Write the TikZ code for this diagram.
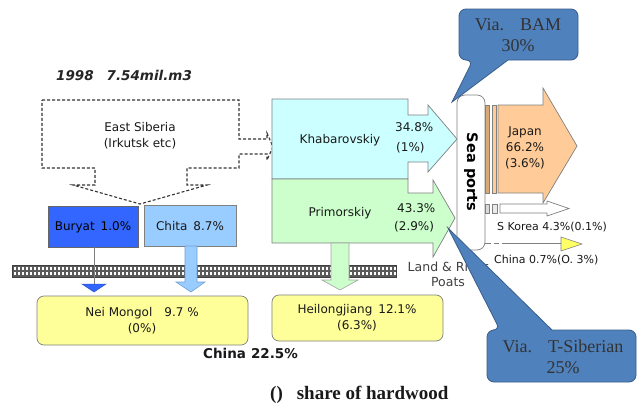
\documentclass[tikz,border=0pt]{standalone}
\usepackage{fontspec}
\setmainfont{DejaVu Sans}
\newfontfamily\serifface{Liberation Serif}
\definecolor{khab}{HTML}{CCFFFF}
\definecolor{prim}{HTML}{CCFFCC}
\definecolor{japan}{HTML}{FFCC99}
\definecolor{japandark}{HTML}{D9A877}
\definecolor{buryat}{HTML}{3366FF}
\definecolor{chita}{HTML}{99CCFF}
\definecolor{chitaline}{HTML}{6FA0D8}
\definecolor{yell}{HTML}{FFFF99}
\definecolor{yelltri}{HTML}{FFFF66}
\definecolor{callfill}{HTML}{4F81BD}
\definecolor{callline}{HTML}{385D8A}
\definecolor{edge}{HTML}{808080}
\definecolor{railgray}{HTML}{5A5A5A}
\tikzset{
  shapebox/.style={draw=edge, line width=0.7pt},
  dashline/.style={draw=black!80, line width=1.1pt, dash pattern=on 3pt off 2pt},
  lbl/.style={inner sep=0pt, align=center, text=black!90, font=\fontsize{12}{16}\selectfont},
  smalllbl/.style={inner sep=0pt, align=center, text=black!90, font=\fontsize{11}{13}\selectfont},
  calloutshape/.style={fill=callfill, draw=callline, line width=0.8pt},
  callouttext/.style={inner sep=0pt, align=center, text=black!80, font=\serifface\fontsize{18}{21}\selectfont},
}
\begin{document}
\begin{tikzpicture}[x=1pt,y=-1pt]
\useasboundingbox (0,0) rectangle (637,407);
\fill[white] (0,0) rectangle (637,407);

% title
\node[inner sep=0pt, text=black!85, font=\fontsize{13.5}{16}\selectfont\bfseries\itshape] (title) at (124,75) {1998\hspace{13pt}7.54mil.m3};

% East Siberia dashed outline
\draw[dashline] (42,100) -- (239,100) -- (239,139) -- (267,139) -- (267,133) -- (273,147) -- (267,160) -- (267,154) -- (239,154) -- (239,168) -- (187,168) -- (187,185) -- (207,185) -- (140,204) -- (73,185) -- (95,185) -- (95,168) -- (42,168) -- cycle;
\node[lbl] (eastsib) at (140,136) {East Siberia\\(Irkutsk etc)};

% Khabarovskiy
\filldraw[shapebox, fill=khab] (272,99) -- (408,99) -- (408,115) -- (428,115) -- (428,105) -- (457,139) -- (428,172) -- (428,162) -- (408,162) -- (408,179) -- (272,179) -- cycle;
\node[lbl] (khabtxt) at (340,140) {Khabarovskiy};
\node[lbl, anchor=west] (khabpct) at (395,127) {34.8\%};
\node[lbl, anchor=west] (khabhw) at (396,148) {(1\%)};

% Primorskiy
\filldraw[shapebox, fill=prim] (272,179) -- (408,179) -- (408,193) -- (433,193) -- (433,180) -- (455,218) -- (433,257) -- (433,243) -- (272,243) -- cycle;
\node[lbl] (primtxt) at (340,213) {Primorskiy};
\node[lbl, anchor=west] (primpct) at (397,208) {43.3\%};
\node[lbl, anchor=west] (primhw) at (394,227) {(2.9\%)};

% Buryat and Chita
\filldraw[shapebox, draw=black!60, fill=buryat] (48,206) rectangle (138,247);
\node[lbl, text=black] (buryat) at (93,227) {Buryat\hspace{6pt}1.0\%};
\filldraw[shapebox, fill=chita] (144,205) rectangle (236,246);
\node[lbl] (chita) at (190,226) {Chita\hspace{6pt}8.7\%};

% rail track
\fill[railgray] (12,265) rectangle (396,277);
\foreach \i in {0,...,95} {
  \fill[white] (13.6+4*\i,267.2) rectangle ++(2.2,2.6);
  \fill[white] (13.6+4*\i,272.2) rectangle ++(2.2,2.6);
}
\draw[black!75, line width=0.6pt] (12,265) rectangle (396,277);

% arrows into China
\draw[edge, line width=0.8pt] (94,247) -- (94,284);
\filldraw[fill=buryat, draw=buryat!80!black, line width=0.5pt] (82,284) -- (106,284) -- (94,292) -- cycle;
\filldraw[fill=chita, draw=chitaline, line width=0.6pt] (185,246) -- (197,246) -- (197,282) -- (205,282) -- (191,292) -- (176,282) -- (185,282) -- cycle;
\filldraw[fill=prim, draw=edge!70, line width=0.6pt] (331,243) -- (349,243) -- (349,280) -- (358,280) -- (340,290) -- (322,280) -- (331,280) -- cycle;

% Chinese provinces
\filldraw[shapebox, fill=yell, rounded corners=7pt] (37,296) rectangle (248,345);
\node[lbl] (neimongol) at (142,321) {Nei Mongol\hspace{12pt}9.7 \%\\(0\%)};
\filldraw[shapebox, fill=yell, rounded corners=7pt] (272,295) rectangle (443,341);
\node[lbl] (heilong) at (357,318) {Heilongjiang\hspace{6pt}12.1\%\\(6.3\%)};
\node[inner sep=0pt, anchor=west, text=black!90, font=\fontsize{13.5}{15}\selectfont\bfseries] (china) at (203,353) {China\hspace{5pt}22.5\%};
\node[inner sep=0pt, anchor=west, text=black!90, font=\serifface\fontsize{19}{21}\selectfont\bfseries] (legend) at (270,395) {()\hspace{14pt}share of hardwood};

% Sea ports
\filldraw[shapebox, fill=white, rounded corners=8pt] (457,95) rectangle (485,250);
\node[inner sep=0pt, rotate=-90, text=black, font=\fontsize{14.5}{16}\selectfont\bfseries] (seaports) at (471,172) {Sea ports};

% Japan
\filldraw[shapebox, fill=japandark] (485,105) rectangle (489,193);
\filldraw[shapebox, fill=japan] (492,105) rectangle (496,193);
\filldraw[shapebox, fill=japan] (498,105) -- (543,105) -- (543,88) -- (577,146) -- (543,203) -- (543,193) -- (498,193) -- cycle;
\node[lbl] (japan) at (525,148) {Japan\\66.2\%\\(3.6\%)};

% S Korea
\filldraw[shapebox, fill=black!15] (485,204) rectangle (489,213);
\filldraw[shapebox, fill=black!8] (492,204) rectangle (497,213);
\filldraw[shapebox, fill=white] (500,204) -- (547,204) -- (547,201) -- (569,208.5) -- (547,216) -- (547,213) -- (500,213) -- cycle;
\node[smalllbl, anchor=west] (skorea) at (497,227) {S Korea 4.3\%(0.1\%)};

% China by sea
\coordinate (chinastart) at (485,243);
\coordinate (chinahead) at (561,243);
\draw[edge, line width=0.8pt, dash pattern=on 6pt off 3pt on 5pt off 3pt on 100pt] (chinastart) -- (chinahead);
\filldraw[fill=yelltri, draw=edge, line width=0.6pt] (561,237) -- (582,244) -- (561,251) -- cycle;
\node[smalllbl, anchor=west] (chinasea) at (494,260) {China 0.7\%(O. 3\%)};

% Land & River
\node[lbl, text=black!75, font=\fontsize{12.5}{15}\selectfont] (landriver) at (448,274) {Land \& River\\Poats};

% callouts
\draw[calloutshape] (473,60) -- (452,102) -- (508,60) [rounded corners=7pt] -- (578,60) -- (578,9) -- (459,9) -- (459,60) -- cycle;
\node[callouttext] (bam) at (518,35) {Via.\hspace{16pt}BAM\\30\%};
\draw[calloutshape] (500,330) -- (448,228) -- (552,330) [rounded corners=7pt] -- (636,330) -- (636,382) -- (487,382) -- (487,330) -- cycle;
\node[callouttext] (tsib) at (563,357) {Via.\hspace{16pt}T-Siberian\\25\%};
\end{tikzpicture}
\end{document}
